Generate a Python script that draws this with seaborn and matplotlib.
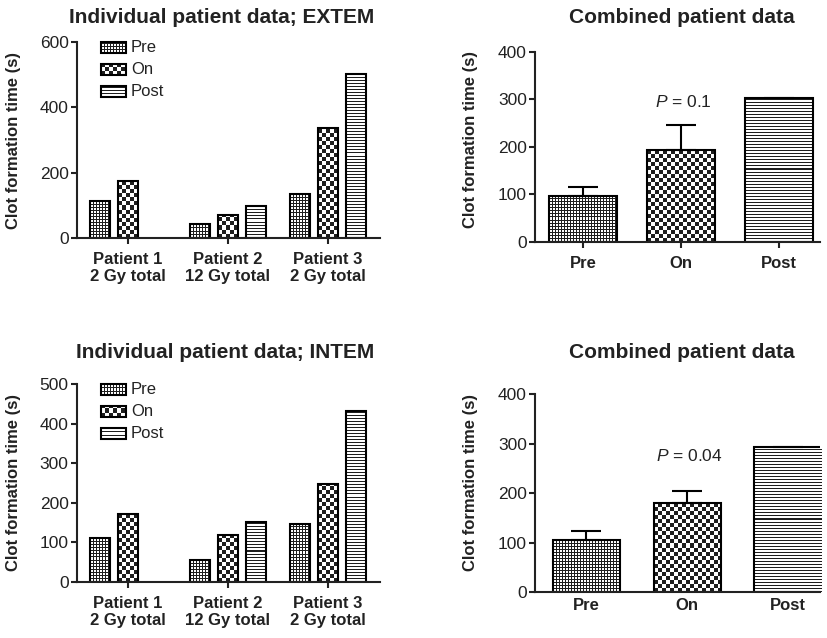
import numpy as np
import pandas as pd
import seaborn as sns
import matplotlib.pyplot as plt
from matplotlib.patches import Rectangle

phases = ["Pre", "On", "Post"]
patients = ["Patient 1\n2 Gy total", "Patient 2\n12 Gy total", "Patient 3\n2 Gy total"]

# individual patient values (s); patient 1 has no Post value
extem_pre = [112, 44, 136]
extem_on = [173, 71, 337]
extem_post = [np.nan, 99, 503]
intem_pre = [112, 55, 145]
intem_on = [171, 118, 247]
intem_post = [np.nan, 152, 433]

# combined means and upper SEM
extem_mean = [97, 193, 303]
extem_sem = [18, 53, np.nan]
intem_mean = [105, 180, 294]
intem_sem = [18, 25, np.nan]
p_labels = ["0.1", "0.04"]

sns.set_style("ticks")
plt.rcParams["font.family"] = ["Liberation Sans", "DejaVu Sans"]
plt.rcParams["mathtext.fontset"] = "custom"
plt.rcParams["mathtext.rm"] = "Liberation Sans"
plt.rcParams["mathtext.it"] = "Liberation Sans:italic"
plt.rcParams["axes.linewidth"] = 1.5
ink = "#222222"


def texture(ax, x0, y0, x1, y1, kind, clip=None, trans=None):
    # pixel-level fill pattern (GraphPad style): fine grid, checker, stripes
    t = ax.transData if trans is None else trans
    (px0, py0), (px1, py1) = t.transform([(x0, y0), (x1, y1)])
    w = max(int(round(px1 - px0)), 1)
    h = max(int(round(py1 - py0)), 1)
    i, j = np.mgrid[0:h, 0:w]
    if kind == "Pre":
        dark = (i % 3 == 0) | (j % 3 == 0)
    elif kind == "On":
        dark = (i // 4 + j // 4) % 2 == 0
    else:
        dark = i % 3 == 0
    img = np.where(dark, 0.12, 1.0)
    im = ax.imshow(img, cmap="gray", vmin=0, vmax=1, extent=(x0, x1, y0, y1),
                   origin="lower", aspect="auto", interpolation="nearest",
                   zorder=1.5, transform=t)
    if clip is not None:
        im.set_clip_path(clip)


def fill_bars(ax, bars, kinds):
    for bar, kind in zip(bars, kinds):
        x0, y0 = bar.get_x(), bar.get_y()
        x1, y1 = x0 + bar.get_width(), y0 + bar.get_height()
        bar.set_facecolor("none")
        bar.set_zorder(2)
        texture(ax, x0, y0, x1, y1, kind, clip=bar)


def long_table(pre, on, post):
    rows = []
    for p, a, b, c in zip(patients, pre, on, post):
        for ph, v in zip(phases, [a, b, c]):
            if not np.isnan(v):
                rows.append({"patient": p, "phase": ph, "value": v})
    return pd.DataFrame(rows)


def style_axes(ax, ymax, step, tick_len):
    sns.despine(ax=ax)
    ax.set_yticks(np.arange(0, ymax + 1, step))
    ax.tick_params(axis="y", labelsize=12.5, length=4, width=1.5, pad=2, colors=ink)
    ax.tick_params(axis="x", labelsize=12, length=tick_len, width=1.5,
                   pad=6 if tick_len else 4, colors=ink)
    for lab in ax.get_xticklabels():
        lab.set_fontweight("bold")
        lab.set_linespacing(1.2)
    for s in ax.spines.values():
        s.set_color(ink)
    ax.set_xlabel("")
    ax.set_ylabel("Clot formation time (s)", fontsize=12, fontweight="bold", color=ink)


def individual(ax, df, ymax, step):
    sns.barplot(data=df, x="patient", y="value", hue="phase", order=patients,
                hue_order=phases, palette=["white"] * 3, width=0.84, gap=0.29,
                edgecolor="black", linewidth=1.5, errorbar=None, legend=False, ax=ax)
    ax.set_xlim(-0.51, 2.52)
    ax.set_ylim(0, ymax)
    for cont, ph in zip(ax.containers, phases):
        fill_bars(ax, list(cont), [ph] * len(cont))
    style_axes(ax, ymax, step, 4)
    ax.yaxis.set_label_coords(-0.185, 0.5)
    # legend drawn by hand so the keys carry the same fill patterns
    for k, (ph, yc) in enumerate(zip(phases, [0.972, 0.862, 0.75])):
        key = Rectangle((0.079, yc - 0.028), 0.0825, 0.056, transform=ax.transAxes,
                        facecolor="none", edgecolor="black", linewidth=1.5,
                        zorder=3, clip_on=False)
        ax.add_patch(key)
        texture(ax, 0.079, yc - 0.028, 0.1615, yc + 0.028, ph, clip=key,
                trans=ax.transAxes)
        ax.text(0.178, yc, ph, transform=ax.transAxes, va="center", ha="left",
                fontsize=12, color=ink)
    ax.set_xlim(-0.51, 2.52)
    ax.set_ylim(0, ymax)


def combined(ax, means, sems, plab, py, bw, xlim, tick_len, lab_y):
    sns.barplot(x=phases, y=means, order=phases, color="white", width=bw,
                edgecolor="black", linewidth=1.5, errorbar=None, ax=ax)
    ax.set_xlim(*xlim)
    ax.set_ylim(0, 400)
    fill_bars(ax, list(ax.patches), phases)
    err = np.array(sems)
    ax.errorbar(range(3), means, yerr=[np.zeros(3), err], fmt="none",
                ecolor="black", elinewidth=1.5, capsize=11, capthick=1.5, zorder=2)
    ax.text(1.02, py, "$P$ = " + plab, ha="center", va="center",
            fontsize=12.5, color=ink)
    style_axes(ax, 400, 100, tick_len)
    ax.yaxis.set_label_coords(-0.2, lab_y)
    ax.set_xlim(*xlim)
    ax.set_ylim(0, 400)


fig = plt.figure(figsize=(8.27, 6.38), dpi=100)
ax1 = fig.add_axes([0.093, 0.627, 0.366, 0.307])
ax2 = fig.add_axes([0.647, 0.621, 0.345, 0.298])
ax3 = fig.add_axes([0.093, 0.088, 0.366, 0.310])
ax4 = fig.add_axes([0.647, 0.072, 0.345, 0.310])

individual(ax1, long_table(extem_pre, extem_on, extem_post), 600, 200)
individual(ax3, long_table(intem_pre, intem_on, intem_post), 500, 100)
combined(ax2, extem_mean, extem_sem, p_labels[0], 295, 0.69, (-0.49, 2.42), 4, 0.537)
combined(ax4, intem_mean, intem_sem, p_labels[1], 275, 0.67, (-0.51, 2.32), 0, 0.553)

fig.text(0.268, 0.973, "Individual patient data; EXTEM", ha="center", va="center",
         fontsize=15, fontweight="bold", color=ink)
fig.text(0.825, 0.973, "Combined patient data", ha="center", va="center",
         fontsize=15, fontweight="bold", color=ink)
fig.text(0.272, 0.448, "Individual patient data; INTEM", ha="center", va="center",
         fontsize=15, fontweight="bold", color=ink)
fig.text(0.825, 0.448, "Combined patient data", ha="center", va="center",
         fontsize=15, fontweight="bold", color=ink)

fig.savefig("out.png", dpi=100)
